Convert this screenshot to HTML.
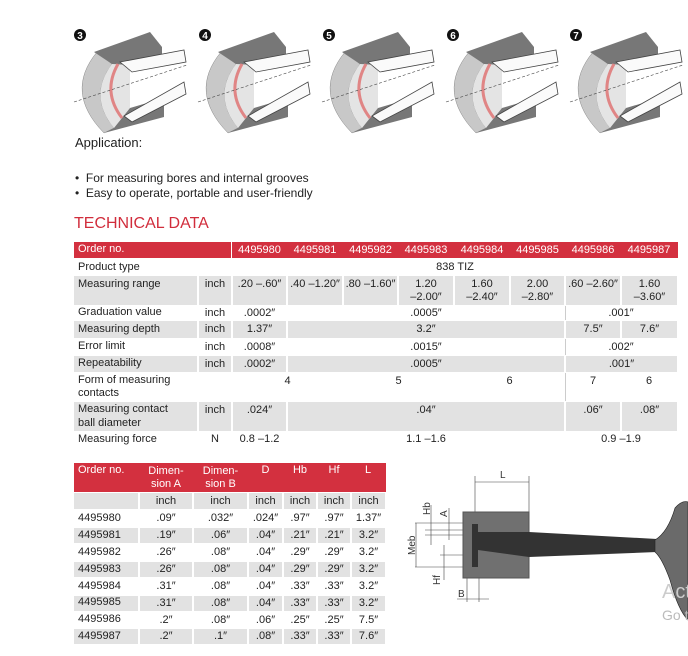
<!DOCTYPE html>
<html><head><meta charset="utf-8"><style>
*{margin:0;padding:0;box-sizing:border-box}
body{width:688px;height:656px;background:#fff;position:relative;overflow:hidden;font-family:"Liberation Sans","DejaVu Sans",sans-serif;color:#222}
.a{position:absolute;white-space:nowrap}
.c{position:absolute;font-size:11px;line-height:1.15;text-align:center;display:flex;align-items:center;justify-content:center}
.l{position:absolute;font-size:11px;line-height:1.2;padding-left:4px;display:flex;align-items:center}
.g{background:#e2e2e2}
.h{color:#fff;font-size:11px}
</style></head><body>
<svg class="a" style="left:0;top:0" width="688" height="140">
<defs><g id="f">
<path d="M25 32 Q-8 72 32 113 L42 108 Q16 76 40 44 Z" fill="#c8c8c8" stroke="#888" stroke-width=".5"/>
<path d="M40 44 Q16 76 42 108 L58 90 L58 45 Z" fill="#e4e4e4"/>
<path d="M22 32 L78 12 L90 27 L90 40 L58 45 L40 44 Z" fill="#777"/>
<path d="M32 113 L92 97 L92 78 L58 88 L42 108 Z" fill="#777"/>
<path d="M46 44 Q30 72 50 98" stroke="#e08585" stroke-width="3" fill="none"/>
<path d="M48 42 L112 30 L114 42 L60 52 Z" fill="#fafafa" stroke="#444" stroke-width=".8"/>
<path d="M52 96 L112 62 L114 74 L60 102 Z" fill="#fafafa" stroke="#444" stroke-width=".8"/>
<line x1="2" y1="82" x2="115" y2="45" stroke="#444" stroke-dasharray="3,2" stroke-width=".6"/>
</g></defs>
<use href="#f" x="72" y="20"/><use href="#f" x="196" y="20"/><use href="#f" x="320" y="20"/><use href="#f" x="444" y="20"/><use href="#f" x="568" y="20"/>
<g font-size="10" font-weight="bold" fill="#fff" text-anchor="middle">
<circle cx="80" cy="35" r="6" fill="#111"/><text x="80" y="39">3</text>
<circle cx="205" cy="35" r="6" fill="#111"/><text x="205" y="39">4</text>
<circle cx="329" cy="35" r="6" fill="#111"/><text x="329" y="39">5</text>
<circle cx="453" cy="35" r="6" fill="#111"/><text x="453" y="39">6</text>
<circle cx="576" cy="35" r="6" fill="#111"/><text x="576" y="39">7</text>
</g></svg>
<div class="a" style="left:75px;top:135px;font-size:13px">Application:</div>
<div class="a" style="left:75px;top:171px;font-size:12px">•&nbsp; For measuring bores and internal grooves</div>
<div class="a" style="left:75px;top:186px;font-size:12px">•&nbsp; Easy to operate, portable and user-friendly</div>
<div class="a" style="left:74px;top:215px;font-size:16px;color:#d12d3c">TECHNICAL DATA</div>

<!-- table 1 -->
<div class="a" style="left:74px;top:242px;width:604px;height:16px;background:#d3303f"></div>
<div class="a" style="left:231px;top:242px;width:1px;height:16px;background:#fff"></div>
<div class="l h" style="left:74px;top:242px;height:16px">Order no.</div>
<div class="c h" style="left:232px;top:242px;width:55px;height:16px">4495980</div>
<div class="c h" style="left:287px;top:242px;width:56px;height:16px">4495981</div>
<div class="c h" style="left:343px;top:242px;width:55px;height:16px">4495982</div>
<div class="c h" style="left:398px;top:242px;width:56px;height:16px">4495983</div>
<div class="c h" style="left:454px;top:242px;width:56px;height:16px">4495984</div>
<div class="c h" style="left:510px;top:242px;width:55px;height:16px">4495985</div>
<div class="c h" style="left:565px;top:242px;width:56px;height:16px">4495986</div>
<div class="c h" style="left:621px;top:242px;width:56px;height:16px">4495987</div>

<div class="l" style="left:74px;top:260px;height:15px">Product type</div>
<div class="c" style="left:232px;top:260px;width:446px;height:15px">838 TIZ</div>

<div class="l g" style="left:74px;top:276px;width:123px;height:29px;align-items:flex-start;padding-top:2px">Measuring range</div>
<div class="c g" style="left:199px;top:276px;width:32px;height:29px;align-items:flex-start;padding-top:2px">inch</div>
<div class="c g" style="left:233px;top:276px;width:53px;height:29px;align-items:flex-start;padding-top:2px">.20 –.60″</div>
<div class="c g" style="left:288px;top:276px;width:54px;height:29px;align-items:flex-start;padding-top:2px">.40 –1.20″</div>
<div class="c g" style="left:344px;top:276px;width:53px;height:29px;align-items:flex-start;padding-top:2px">.80 –1.60″</div>
<div class="c g" style="left:399px;top:276px;width:54px;height:29px">1.20<br>–2.00″</div>
<div class="c g" style="left:455px;top:276px;width:54px;height:29px">1.60<br>–2.40″</div>
<div class="c g" style="left:511px;top:276px;width:53px;height:29px">2.00<br>–2.80″</div>
<div class="c g" style="left:566px;top:276px;width:54px;height:29px;align-items:flex-start;padding-top:2px">.60 –2.60″</div>
<div class="c g" style="left:622px;top:276px;width:55px;height:29px">1.60<br>–3.60″</div>

<div class="l" style="left:74px;top:306px;height:14px">Graduation value</div>
<div class="c" style="left:198px;top:306px;width:34px;height:14px">inch</div>
<div class="c" style="left:232px;top:306px;width:55px;height:14px">.0002″</div>
<div class="c" style="left:287px;top:306px;width:278px;height:14px">.0005″</div>
<div class="c" style="left:565px;top:306px;width:112px;height:14px">.001″</div>

<div class="l g" style="left:74px;top:321px;width:123px;height:17px">Measuring depth</div>
<div class="c g" style="left:199px;top:321px;width:32px;height:17px">inch</div>
<div class="c g" style="left:233px;top:321px;width:53px;height:17px">1.37″</div>
<div class="c g" style="left:288px;top:321px;width:276px;height:17px">3.2″</div>
<div class="c g" style="left:566px;top:321px;width:54px;height:17px">7.5″</div>
<div class="c g" style="left:622px;top:321px;width:55px;height:17px">7.6″</div>

<div class="l" style="left:74px;top:339px;height:16px">Error limit</div>
<div class="c" style="left:198px;top:339px;width:34px;height:16px">inch</div>
<div class="c" style="left:232px;top:339px;width:55px;height:16px">.0008″</div>
<div class="c" style="left:287px;top:339px;width:278px;height:16px">.0015″</div>
<div class="c" style="left:565px;top:339px;width:112px;height:16px">.002″</div>

<div class="l g" style="left:74px;top:356px;width:123px;height:16px">Repeatability</div>
<div class="c g" style="left:199px;top:356px;width:32px;height:16px">inch</div>
<div class="c g" style="left:233px;top:356px;width:53px;height:16px">.0002″</div>
<div class="c g" style="left:288px;top:356px;width:276px;height:16px">.0005″</div>
<div class="c g" style="left:566px;top:356px;width:111px;height:16px">.001″</div>

<div class="l" style="left:74px;top:373px;height:28px">Form of measuring<br>contacts</div>
<div class="c" style="left:232px;top:373px;width:111px;height:28px;align-items:flex-start;padding-top:2px">4</div>
<div class="c" style="left:343px;top:373px;width:111px;height:28px;align-items:flex-start;padding-top:2px">5</div>
<div class="c" style="left:454px;top:373px;width:111px;height:28px;align-items:flex-start;padding-top:2px">6</div>
<div class="c" style="left:565px;top:373px;width:56px;height:28px;align-items:flex-start;padding-top:2px">7</div>
<div class="c" style="left:621px;top:373px;width:56px;height:28px;align-items:flex-start;padding-top:2px">6</div>
<div class="a" style="left:565px;top:306px;width:1px;height:14px;background:#ccc"></div>
<div class="a" style="left:565px;top:339px;width:1px;height:16px;background:#ccc"></div>
<div class="a" style="left:565px;top:373px;width:1px;height:28px;background:#ccc"></div>

<div class="l g" style="left:74px;top:402px;width:123px;height:29px">Measuring contact<br>ball diameter</div>
<div class="c g" style="left:199px;top:402px;width:32px;height:29px;align-items:flex-start;padding-top:2px">inch</div>
<div class="c g" style="left:233px;top:402px;width:53px;height:29px;align-items:flex-start;padding-top:2px">.024″</div>
<div class="c g" style="left:288px;top:402px;width:276px;height:29px;align-items:flex-start;padding-top:2px">.04″</div>
<div class="c g" style="left:566px;top:402px;width:54px;height:29px;align-items:flex-start;padding-top:2px">.06″</div>
<div class="c g" style="left:622px;top:402px;width:55px;height:29px;align-items:flex-start;padding-top:2px">.08″</div>

<div class="l" style="left:74px;top:432px;height:15px">Measuring force</div>
<div class="c" style="left:198px;top:432px;width:34px;height:15px">N</div>
<div class="c" style="left:232px;top:432px;width:55px;height:15px">0.8 –1.2</div>
<div class="c" style="left:287px;top:432px;width:278px;height:15px">1.1 –1.6</div>
<div class="c" style="left:565px;top:432px;width:112px;height:15px">0.9 –1.9</div>

<!-- table 2 -->
<div class="a" style="left:74px;top:463px;width:312px;height:29px;background:#d3303f"></div>
<div class="l h" style="left:74px;top:463px;height:15px">Order no.</div>
<div class="c h" style="left:139px;top:463px;width:54px;height:29px">Dimen-<br>sion A</div>
<div class="c h" style="left:193px;top:463px;width:55px;height:29px">Dimen-<br>sion B</div>
<div class="c h" style="left:248px;top:463px;width:35px;height:15px">D</div>
<div class="c h" style="left:283px;top:463px;width:34px;height:15px">Hb</div>
<div class="c h" style="left:317px;top:463px;width:34px;height:15px">Hf</div>
<div class="c h" style="left:351px;top:463px;width:34px;height:15px">L</div>
<div class="a g" style="left:74px;top:493px;width:64px;height:16px"></div>
<div class="c g" style="left:140px;top:493px;width:52px;height:16px">inch</div>
<div class="c g" style="left:194px;top:493px;width:53px;height:16px">inch</div>
<div class="c g" style="left:249px;top:493px;width:33px;height:16px">inch</div>
<div class="c g" style="left:284px;top:493px;width:32px;height:16px">inch</div>
<div class="c g" style="left:318px;top:493px;width:32px;height:16px">inch</div>
<div class="c g" style="left:352px;top:493px;width:33px;height:16px">inch</div>
<div id="t2"></div>
<script>
var r=[["4495980",".09″",".032″",".024″",".97″",".97″","1.37″"],["4495981",".19″",".06″",".04″",".21″",".21″","3.2″"],["4495982",".26″",".08″",".04″",".29″",".29″","3.2″"],["4495983",".26″",".08″",".04″",".29″",".29″","3.2″"],["4495984",".31″",".08″",".04″",".33″",".33″","3.2″"],["4495985",".31″",".08″",".04″",".33″",".33″","3.2″"],["4495986",".2″",".08″",".06″",".25″",".25″","7.5″"],["4495987",".2″",".1″",".08″",".33″",".33″","7.6″"]];
var xs=[74,139,193,248,283,317,351,386],h="";
r.forEach(function(row,i){var y=510+i*16.9,g=i%2?" g":"";
row.forEach(function(v,j){var x=xs[j]+(j?1:0),w=xs[j+1]-xs[j]-(j?2:1);
h+='<div class="'+(j?'c':'l')+g+'" style="left:'+x+'px;top:'+(y+1)+'px;width:'+w+'px;height:15px">'+v+'</div>';});});
document.getElementById("t2").outerHTML=h;
</script>

<!-- diagram -->
<svg class="a" style="left:400px;top:460px" width="288" height="196">
<g stroke="#444" stroke-width=".6" fill="none">
<line x1="75" y1="22" x2="129" y2="22"/><line x1="75" y1="16" x2="75" y2="60"/><line x1="129" y1="16" x2="129" y2="52"/>
<line x1="15" y1="63" x2="75" y2="63"/><line x1="15" y1="107" x2="75" y2="107"/><line x1="16" y1="63" x2="16" y2="107"/>
<line x1="31" y1="45" x2="31" y2="85"/><line x1="49" y1="48" x2="49" y2="80"/><line x1="44" y1="85" x2="44" y2="120"/>
<line x1="25" y1="70" x2="70" y2="70"/><line x1="25" y1="75" x2="70" y2="75"/><line x1="40" y1="95" x2="70" y2="95"/>
<line x1="67" y1="110" x2="67" y2="142"/><line x1="79" y1="110" x2="79" y2="142"/><line x1="57" y1="139" x2="89" y2="139"/>
</g>
<rect x="63" y="52" width="66" height="66" fill="#707070" stroke="#555"/>
<path d="M72 64 L78 64 L78 72 L129 72 L257 79 L257 92 L129 97 L78 90 L78 107 L72 107Z" fill="#333"/>
<path d="M255 80 Q268 72 275 48 Q282 40 288 42 L288 160 Q278 150 270 120 Q262 98 255 92Z" fill="#6a6a6a" stroke="#222" stroke-width=".6"/>
<g font-size="10" fill="#333" font-family="Liberation Sans,sans-serif">
<text x="100" y="18">L</text>
<text x="15" y="95" transform="rotate(-90 15 95)">Meb</text>
<text x="30" y="55" transform="rotate(-90 30 55)">Hb</text>
<text x="47" y="57" transform="rotate(-90 47 57)">A</text>
<text x="40" y="125" transform="rotate(-90 40 125)">Hf</text>
<text x="58" y="137">B</text>
</g>
<text x="262" y="138" font-size="20" fill="#ccc">Act</text>
<text x="262" y="160" font-size="14" fill="#bbb">Go t</text>
</svg>
</body></html>
